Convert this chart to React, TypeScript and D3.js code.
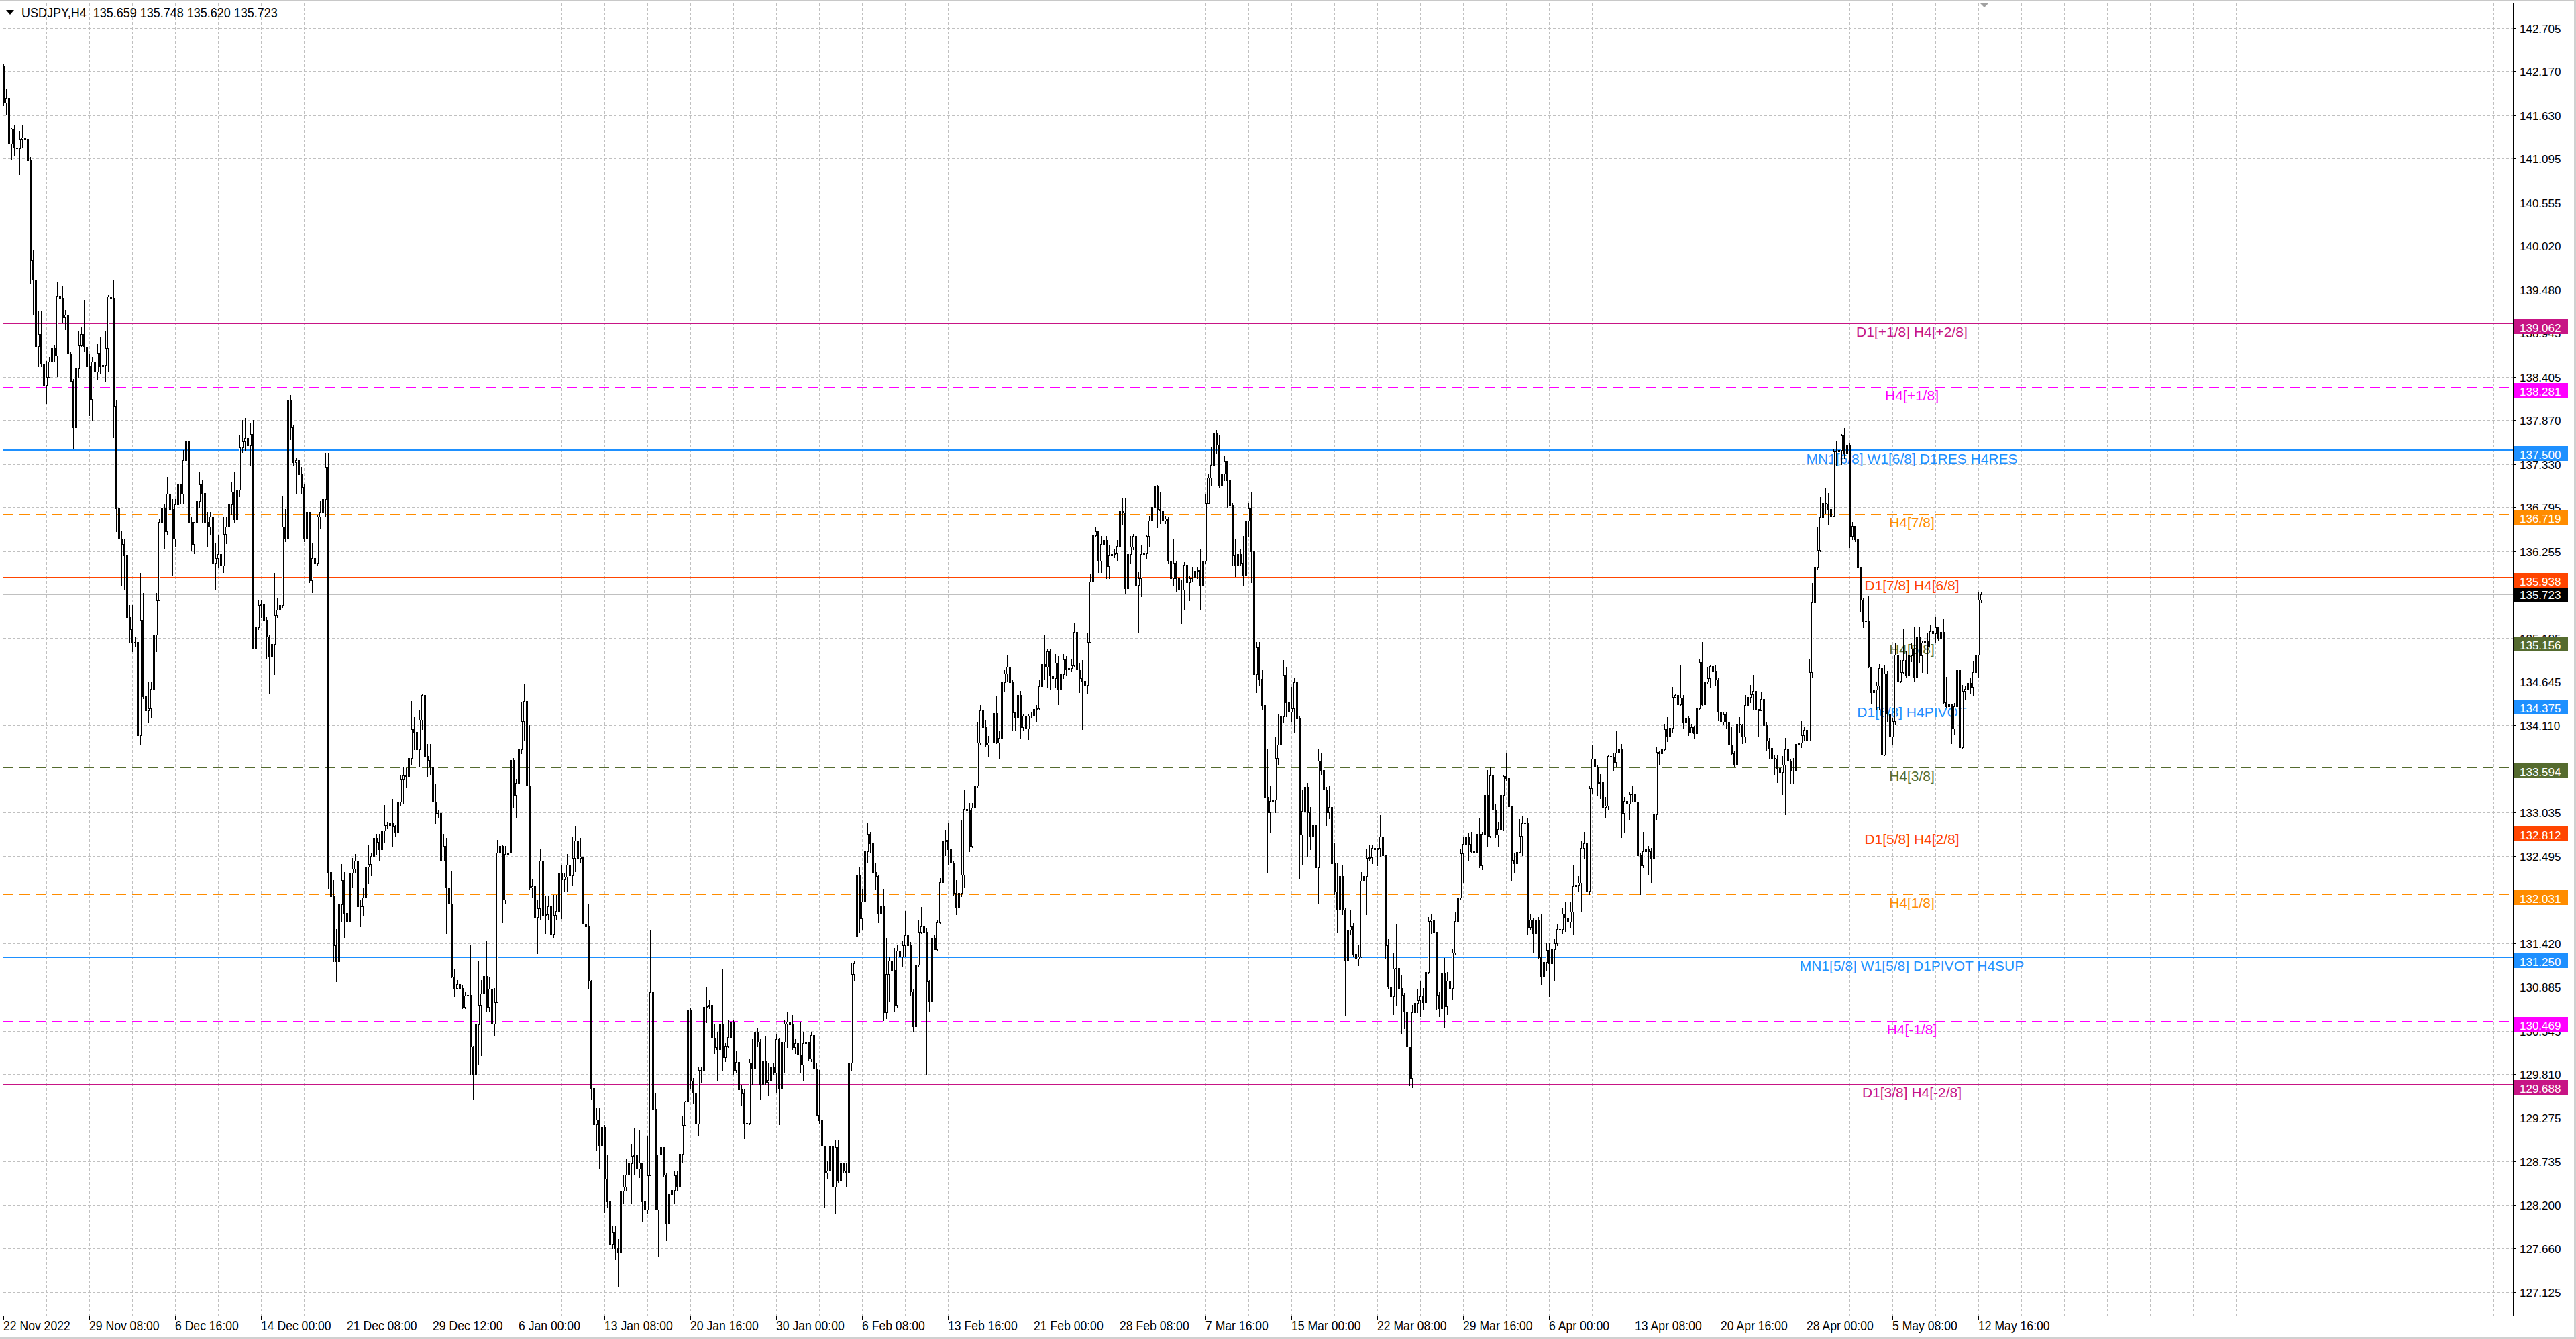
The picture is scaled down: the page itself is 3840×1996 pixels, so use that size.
import { useEffect, useRef } from 'react';
import * as d3 from 'd3';

const W = 3840;
const H = 1996;
const FONT = "'Liberation Sans', Arial, sans-serif";

// H4 bars, one value per bar (22 Nov 2022 -> 12 May 2023)
const closes = [
  141.78, 141.84, 141.28, 141.46, 141.23, 141.22, 141.34, 141.35, 141.34, 141.07,
  139.84, 139.60, 138.78, 138.93, 138.57, 138.30, 138.40, 138.59, 138.76, 138.67,
  139.40, 139.38, 139.14, 139.17, 138.69, 138.35, 137.78, 138.51, 138.79, 138.93,
  138.77, 138.53, 138.13, 138.59, 138.47, 138.70, 138.53, 138.55, 138.76, 139.39,
  139.38, 138.05, 136.78, 136.41, 136.34, 136.20, 135.44, 135.29, 135.14, 135.14,
  133.99, 135.41, 134.47, 134.29, 134.32, 134.56, 135.23, 135.65, 136.62, 136.78,
  136.50, 136.96, 136.77, 136.41, 136.83, 137.08, 136.96, 137.38, 137.61, 136.62,
  136.34, 136.62, 136.87, 137.08, 136.97, 136.62, 136.56, 136.68, 136.11, 136.17,
  136.22, 136.08, 136.47, 136.56, 136.83, 136.99, 136.65, 137.01, 137.53, 137.61,
  137.65, 137.56, 137.70, 135.05, 135.32, 135.59, 135.60, 135.41, 135.20, 134.96,
  135.11, 135.47, 135.53, 135.59, 136.56, 136.41, 138.11, 137.78, 137.35, 137.38,
  137.20, 137.05, 136.41, 136.74, 135.90, 136.17, 136.11, 136.68, 136.74, 136.90,
  137.29, 132.30, 132.00, 131.40, 131.20, 131.90, 132.20, 131.80, 131.70, 132.29,
  132.34, 132.44, 131.88, 131.88, 131.99, 132.37, 132.40, 132.50, 132.72, 132.67,
  132.58, 132.81, 132.88, 132.87, 132.90, 132.86, 132.80, 133.17, 133.45, 133.49,
  133.48, 133.71, 134.06, 134.03, 133.81, 134.18, 134.48, 133.73, 133.68, 133.60,
  133.17, 133.03, 133.03, 132.44, 132.62, 132.11, 131.91, 131.01, 130.87, 130.92,
  130.87, 130.64, 130.78, 130.79, 130.15, 129.81, 130.42, 130.66, 130.80, 131.02,
  130.64, 130.86, 130.43, 130.70, 132.54, 132.62, 131.96, 132.52, 132.54, 133.68,
  133.25, 133.40, 133.81, 134.16, 134.41, 133.37, 132.11, 132.13, 131.75, 131.85,
  132.44, 131.77, 131.78, 131.88, 131.53, 131.77, 131.82, 132.29, 132.21, 132.24,
  132.39, 132.26, 132.47, 132.69, 132.47, 132.49, 131.66, 131.63, 130.96, 129.64,
  129.19, 129.25, 128.93, 129.16, 128.52, 128.24, 127.71, 127.86, 127.66, 127.61,
  128.37, 128.42, 128.57, 128.71, 128.80, 128.81, 128.65, 128.72, 128.24, 128.14,
  128.56, 130.82, 129.38, 128.14, 128.82, 128.91, 128.57, 127.97, 128.33, 128.38,
  128.56, 128.42, 128.83, 129.18, 129.47, 130.60, 129.73, 129.58, 129.20, 129.86,
  129.86, 130.64, 130.65, 130.66, 130.26, 130.14, 130.12, 130.42, 130.02, 130.16,
  130.27, 130.45, 129.86, 129.96, 129.62, 129.57, 129.21, 129.21, 129.95, 129.88,
  130.33, 130.21, 129.69, 129.97, 129.71, 129.74, 129.90, 129.83, 130.24, 129.64,
  130.21, 130.43, 130.46, 130.42, 130.14, 130.19, 130.05, 129.93, 130.19, 130.21,
  130.00, 130.29, 129.88, 129.31, 129.24, 128.93, 128.60, 128.62, 128.93, 128.42,
  128.91, 128.50, 128.72, 128.62, 128.60, 129.95, 131.04, 131.18, 132.27, 131.73,
  131.94, 132.56, 132.77, 132.66, 132.30, 132.25, 131.80, 131.89, 130.57, 131.04,
  131.21, 131.09, 130.66, 131.33, 131.26, 131.40, 131.52, 131.40, 130.83, 130.40,
  131.16, 131.56, 131.63, 131.56, 130.95, 130.71, 131.49, 131.35, 131.68, 132.18,
  132.68, 132.70, 132.58, 132.42, 132.04, 131.87, 132.04, 132.27, 133.08, 133.06,
  132.62, 133.09, 133.37, 133.90, 134.29, 134.09, 133.87, 133.90, 133.90, 134.26,
  133.90, 133.95, 134.64, 134.75, 134.83, 134.64, 134.27, 134.21, 134.48, 134.09,
  134.23, 134.07, 134.23, 134.23, 134.31, 134.32, 134.59, 134.86, 134.83, 135.02,
  134.72, 134.69, 134.88, 134.55, 134.74, 134.92, 134.80, 134.81, 134.85, 135.26,
  134.80, 134.69, 134.66, 134.61, 135.14, 135.88, 136.45, 136.50, 136.14, 136.34,
  136.39, 136.07, 136.20, 136.22, 136.23, 136.32, 136.75, 136.73, 135.80, 136.22,
  136.31, 136.44, 135.84, 135.92, 136.22, 136.23, 136.44, 136.63, 136.80, 137.06,
  136.77, 136.76, 136.63, 136.66, 136.14, 135.92, 136.11, 135.92, 135.78, 135.78,
  136.09, 135.87, 135.92, 135.93, 136.01, 136.02, 135.84, 136.14, 136.85, 137.16,
  137.32, 137.71, 137.57, 137.06, 137.21, 137.37, 137.13, 136.82, 136.20, 136.09,
  136.22, 136.11, 135.96, 136.63, 136.78, 136.25, 134.74, 135.07, 134.68, 134.36,
  133.23, 133.04, 133.18, 133.19, 133.71, 133.87, 134.22, 134.73, 134.39, 134.28,
  134.32, 134.64, 134.19, 132.76, 133.05, 133.35, 133.04, 132.74, 132.88, 132.36,
  133.67, 133.56, 133.32, 133.04, 133.10, 132.41, 132.06, 131.84, 132.25, 131.84,
  131.21, 131.59, 131.63, 131.29, 131.23, 131.26, 132.19, 132.25, 132.47, 132.48,
  132.60, 132.58, 132.60, 132.74, 132.51, 131.40, 130.89, 130.77, 131.11, 131.12,
  130.87, 130.79, 130.58, 130.15, 129.76, 130.57, 130.69, 130.72, 130.77, 130.70,
  131.07, 131.70, 131.71, 131.56, 130.79, 130.62, 131.05, 130.65, 130.96, 130.87,
  131.31, 131.70, 131.99, 132.53, 132.65, 132.73, 132.65, 132.56, 132.54, 132.77,
  132.38, 132.77, 133.25, 132.75, 133.49, 133.07, 132.76, 132.83, 133.25, 133.48,
  133.46, 133.11, 132.45, 132.41, 132.55, 132.75, 132.90, 132.90, 131.62, 131.71,
  131.55, 131.71, 131.25, 131.01, 131.19, 131.34, 131.18, 131.35, 131.42, 131.60,
  131.60, 131.79, 131.74, 131.69, 131.81, 132.13, 132.14, 132.17, 132.60, 132.66,
  132.07, 133.33, 133.70, 133.60, 133.40, 133.41, 133.10, 133.12, 133.73, 133.72,
  133.66, 133.77, 133.82, 133.03, 133.18, 133.14, 133.26, 133.26, 133.17, 132.51,
  132.38, 132.56, 132.58, 132.56, 132.47, 133.01, 133.78, 133.76, 133.81, 134.06,
  133.97, 134.08, 134.46, 134.48, 134.37, 134.45, 134.14, 134.19, 134.02, 134.09,
  134.01, 134.32, 134.89, 134.37, 134.65, 134.69, 134.84, 134.78, 134.67, 134.28,
  134.15, 134.24, 134.15, 133.87, 133.76, 133.63, 134.13, 134.12, 133.97, 134.36,
  134.46, 134.49, 134.53, 134.31, 134.29, 134.43, 134.11, 133.92, 133.83, 133.71,
  133.70, 133.58, 133.53, 133.62, 133.81, 133.67, 133.55, 133.55, 133.88, 133.90,
  133.99, 134.05, 133.92, 134.76, 135.62, 136.06, 136.27, 136.67, 136.85, 136.84,
  136.77, 136.69, 137.48, 137.48, 137.50, 137.68, 137.46, 137.56, 136.44, 136.57,
  136.40, 136.06, 135.66, 135.39, 135.39, 134.83, 134.52, 134.55, 134.60, 134.81,
  133.75, 134.75, 134.25, 133.97, 134.16, 134.98, 134.66, 134.76, 134.91, 134.73,
  134.97, 135.05, 134.71, 135.20, 134.97, 135.13, 135.15, 135.08, 135.27, 135.24,
  135.32, 135.18, 135.26, 134.39, 134.34, 134.37, 134.07, 134.34, 134.80, 133.84,
  134.53, 134.56, 134.63, 134.58, 134.76, 134.98, 135.66, 135.723,
];

const highs = [
  142.26, 141.96, 142.04, 141.47, 141.50, 141.28, 141.44, 141.50, 141.50, 141.60,
  141.11, 139.97, 139.60, 139.21, 139.21, 138.60, 138.60, 138.65, 139.05, 138.80,
  139.57, 139.60, 139.53, 139.23, 139.42, 138.72, 138.38, 138.51, 138.96, 139.02,
  139.35, 138.84, 138.69, 138.65, 138.84, 138.81, 138.90, 138.84, 138.96, 139.41,
  139.90, 139.59, 138.11, 136.99, 136.50, 136.41, 136.32, 135.59, 135.59, 135.20,
  135.20, 135.99, 135.74, 134.77, 134.65, 134.65, 135.66, 135.74, 136.65, 136.87,
  136.83, 137.17, 137.41, 136.90, 136.90, 137.11, 137.05, 137.50, 137.87, 137.73,
  136.68, 136.62, 136.96, 137.23, 137.14, 137.05, 136.74, 136.74, 136.87, 136.35,
  136.46, 136.68, 136.68, 136.68, 136.93, 137.11, 137.23, 137.26, 137.68, 137.87,
  137.90, 137.81, 137.84, 137.87, 135.41, 135.65, 135.65, 135.65, 135.44, 135.23,
  135.14, 135.99, 135.68, 135.87, 136.93, 136.77, 138.14, 138.18, 137.81, 137.41,
  137.38, 137.29, 137.08, 136.77, 136.47, 136.35, 136.20, 136.71, 136.87, 137.05,
  137.47, 137.47, 133.68, 132.20, 131.60, 132.10, 132.40, 132.30, 132.00, 132.34,
  132.47, 132.52, 132.44, 131.96, 132.11, 132.49, 132.64, 132.53, 132.81, 132.77,
  132.77, 132.82, 133.13, 132.92, 132.95, 133.20, 132.88, 133.20, 133.50, 133.60,
  133.58, 133.94, 134.41, 134.21, 134.07, 134.29, 134.50, 134.44, 133.88, 133.88,
  133.83, 133.38, 133.07, 133.10, 132.77, 132.72, 132.13, 132.32, 131.10, 130.97,
  130.96, 130.90, 130.82, 130.80, 131.40, 130.16, 130.97, 131.20, 130.97, 131.05,
  131.45, 131.00, 131.00, 130.87, 132.70, 132.72, 132.64, 132.62, 132.90, 133.73,
  133.71, 133.45, 134.06, 134.39, 134.62, 134.77, 134.11, 132.21, 131.98, 131.96,
  132.59, 132.64, 132.01, 132.01, 132.21, 132.02, 132.02, 132.47, 132.39, 132.29,
  132.52, 132.59, 132.74, 132.87, 132.72, 132.72, 132.49, 131.91, 131.91, 130.97,
  129.66, 129.40, 129.40, 129.18, 129.18, 128.82, 128.24, 127.94, 127.94, 127.78,
  128.87, 128.57, 128.77, 128.77, 128.95, 129.15, 129.02, 129.12, 128.72, 128.27,
  129.05, 131.58, 130.90, 129.58, 128.82, 128.92, 128.85, 128.60, 128.37, 128.80,
  128.62, 128.62, 128.87, 129.30, 129.48, 130.62, 130.62, 129.76, 129.63, 129.90,
  129.90, 130.66, 130.89, 130.73, 130.71, 130.42, 130.33, 130.50, 131.11, 130.19,
  130.47, 130.57, 130.47, 130.09, 129.97, 129.67, 129.62, 129.31, 130.00, 130.24,
  130.61, 130.38, 130.24, 130.14, 130.28, 129.95, 130.07, 129.95, 130.31, 130.26,
  130.28, 130.47, 130.57, 130.57, 130.54, 130.24, 130.47, 130.45, 130.33, 130.24,
  130.19, 130.33, 130.40, 129.95, 129.86, 129.26, 128.93, 128.74, 129.12, 129.00,
  129.00, 129.00, 128.84, 128.72, 128.72, 130.21, 131.18, 131.21, 132.37, 132.37,
  132.09, 132.62, 132.90, 132.80, 132.68, 132.42, 132.27, 132.09, 132.09, 131.49,
  131.26, 131.26, 131.37, 131.40, 131.54, 131.46, 131.82, 131.75, 131.44, 130.85,
  131.18, 131.71, 131.87, 131.75, 131.61, 130.97, 131.56, 131.52, 131.71, 132.23,
  132.77, 132.82, 132.90, 132.63, 132.44, 132.20, 132.06, 132.94, 133.32, 133.20,
  133.15, 133.15, 133.49, 134.14, 134.36, 134.36, 134.17, 133.98, 134.01, 134.36,
  134.47, 134.04, 134.67, 134.80, 134.97, 135.11, 134.67, 134.28, 134.54, 134.53,
  134.24, 134.24, 134.24, 134.28, 134.47, 134.36, 134.67, 134.89, 135.22, 135.05,
  135.05, 134.85, 134.99, 134.96, 134.80, 134.99, 134.96, 134.94, 134.92, 135.37,
  135.29, 134.88, 134.91, 134.83, 135.25, 135.98, 136.48, 136.55, 136.44, 136.44,
  136.44, 136.44, 136.33, 136.28, 136.28, 136.39, 136.85, 136.91, 136.91, 136.25,
  136.44, 136.47, 136.44, 136.00, 136.33, 136.31, 136.45, 136.69, 136.87, 137.09,
  137.07, 136.99, 136.72, 136.69, 136.67, 136.17, 136.41, 136.14, 135.98, 135.90,
  136.12, 136.20, 135.95, 136.06, 136.17, 136.06, 136.28, 136.22, 136.96, 137.21,
  137.54, 137.91, 137.75, 137.68, 137.29, 137.43, 137.27, 137.14, 136.85, 136.40,
  136.47, 136.28, 136.44, 136.96, 136.85, 136.99, 136.36, 135.14, 135.14, 134.80,
  134.39, 133.81, 133.37, 133.62, 133.96, 134.25, 134.33, 134.91, 134.82, 134.44,
  134.58, 134.69, 135.12, 134.22, 133.32, 133.49, 133.40, 133.10, 132.96, 133.07,
  133.81, 133.76, 133.62, 133.35, 133.37, 133.24, 132.66, 132.41, 132.41, 132.39,
  131.86, 131.67, 131.84, 131.67, 131.31, 131.40, 132.30, 132.45, 132.58, 132.63,
  132.63, 132.69, 132.60, 133.00, 132.82, 132.39, 131.48, 130.96, 131.31, 131.66,
  131.18, 131.03, 130.81, 130.67, 130.15, 130.66, 130.88, 130.85, 130.96, 130.87,
  131.09, 131.75, 131.79, 131.75, 131.56, 130.83, 131.29, 131.24, 131.07, 130.97,
  131.36, 131.81, 132.10, 132.59, 132.73, 132.88, 132.79, 132.80, 132.62, 132.90,
  132.97, 132.80, 133.51, 133.56, 133.60, 133.50, 133.14, 132.91, 133.41, 133.49,
  133.76, 133.54, 133.12, 132.53, 132.60, 132.95, 132.99, 133.17, 132.96, 131.79,
  131.73, 131.84, 131.75, 131.79, 131.25, 131.42, 131.42, 131.40, 131.48, 131.66,
  131.82, 131.86, 131.94, 131.82, 131.94, 132.38, 132.29, 132.25, 132.69, 132.80,
  132.73, 133.36, 133.87, 133.71, 133.62, 133.51, 133.58, 133.23, 133.74, 133.80,
  133.76, 134.04, 133.97, 133.88, 133.23, 133.39, 133.29, 133.36, 133.38, 133.18,
  132.53, 132.80, 132.64, 132.62, 132.60, 133.19, 133.84, 133.80, 134.00, 134.13,
  134.21, 134.15, 134.58, 134.50, 134.50, 134.85, 134.48, 134.32, 134.22, 134.13,
  134.10, 134.39, 134.92, 135.14, 134.83, 134.82, 134.85, 134.96, 134.85, 134.69,
  134.35, 134.28, 134.28, 134.17, 134.09, 133.80, 134.49, 134.21, 134.13, 134.48,
  134.48, 134.61, 134.73, 134.41, 134.31, 134.52, 134.48, 134.14, 133.95, 133.89,
  133.75, 133.75, 133.78, 133.73, 133.95, 133.89, 133.70, 133.71, 134.06, 134.06,
  134.16, 134.09, 134.09, 134.93, 135.86, 136.43, 136.55, 136.92, 136.97, 137.04,
  136.97, 136.92, 137.51, 137.61, 137.58, 137.70, 137.77, 137.58, 137.58, 136.62,
  136.57, 136.45, 136.06, 135.67, 135.71, 135.71, 134.83, 134.60, 134.65, 134.86,
  134.88, 134.85, 134.78, 134.14, 134.20, 135.12, 135.12, 134.91, 135.29, 135.03,
  135.07, 135.12, 135.32, 135.22, 135.32, 135.15, 135.27, 135.24, 135.35, 135.34,
  135.44, 135.24, 135.49, 135.42, 134.71, 134.39, 134.34, 134.38, 134.85, 134.83,
  134.61, 134.59, 134.68, 134.70, 134.90, 135.05, 135.76, 135.748,
];

const lows = [
  141.75, 141.64, 141.28, 141.09, 141.14, 141.13, 140.90, 141.23, 141.08, 140.99,
  139.56, 139.17, 138.75, 138.53, 138.53, 138.06, 138.08, 138.40, 138.44, 138.60,
  138.41, 139.17, 139.08, 138.99, 138.67, 138.34, 137.52, 137.53, 138.40, 138.77,
  138.72, 138.52, 137.93, 137.87, 138.23, 138.38, 138.44, 138.35, 138.35, 138.47,
  139.32, 137.66, 136.50, 136.20, 135.83, 135.78, 135.32, 135.14, 135.02, 135.08,
  133.62, 133.87, 134.44, 134.14, 134.14, 134.20, 134.53, 135.02, 135.65, 136.62,
  136.29, 136.47, 136.72, 135.96, 136.32, 136.80, 136.84, 136.84, 137.31, 136.53,
  136.26, 136.23, 136.29, 136.80, 136.62, 136.32, 136.32, 136.47, 136.11, 135.78,
  136.05, 135.62, 136.00, 136.35, 136.47, 136.71, 136.62, 136.62, 136.93, 137.47,
  137.50, 137.50, 137.32, 135.05, 134.65, 135.29, 135.44, 135.29, 134.93, 134.50,
  134.77, 134.74, 135.44, 135.44, 135.56, 136.38, 136.17, 137.63, 137.32, 136.96,
  136.84, 136.96, 136.38, 136.29, 135.87, 135.75, 135.75, 136.08, 136.53, 136.65,
  136.68, 132.10, 131.60, 131.20, 130.95, 131.10, 131.70, 131.50, 131.30, 131.56,
  132.11, 132.29, 131.78, 131.63, 131.76, 131.91, 132.16, 132.26, 132.14, 132.52,
  132.44, 132.52, 132.67, 132.84, 132.82, 132.62, 132.75, 132.77, 133.12, 133.15,
  133.34, 133.45, 133.63, 133.81, 133.40, 133.60, 134.06, 133.68, 133.48, 133.50,
  133.10, 132.90, 132.97, 132.38, 132.44, 131.55, 131.61, 131.00, 130.77, 130.87,
  130.85, 130.62, 130.62, 130.59, 129.81, 129.51, 129.61, 129.93, 130.04, 130.59,
  130.59, 130.59, 129.93, 130.29, 130.70, 132.37, 131.68, 131.91, 132.31, 132.31,
  133.10, 132.97, 133.28, 133.76, 133.93, 133.37, 132.09, 131.99, 131.58, 131.30,
  131.71, 131.61, 131.55, 131.71, 131.38, 131.50, 131.71, 131.81, 131.73, 132.06,
  132.06, 132.14, 132.14, 132.31, 132.42, 132.42, 131.66, 131.38, 130.86, 129.51,
  129.18, 128.87, 128.65, 128.92, 128.11, 128.17, 127.46, 127.66, 127.53, 127.20,
  127.58, 128.22, 128.37, 128.54, 128.22, 128.57, 128.60, 128.54, 127.99, 128.09,
  128.09, 128.56, 129.20, 128.14, 127.56, 128.62, 128.55, 127.76, 127.76, 128.24,
  128.22, 128.37, 128.37, 128.72, 129.18, 129.40, 129.63, 129.45, 129.07, 129.05,
  129.71, 129.71, 130.45, 130.62, 130.24, 130.07, 129.74, 130.00, 129.86, 129.97,
  130.14, 130.24, 129.81, 129.83, 129.26, 129.43, 129.02, 128.99, 129.19, 129.69,
  129.74, 130.16, 129.50, 129.62, 129.69, 129.55, 129.69, 129.81, 129.59, 129.19,
  129.43, 129.83, 130.14, 130.38, 130.12, 130.07, 129.90, 129.83, 129.74, 130.07,
  129.98, 129.97, 129.81, 129.31, 129.21, 128.52, 128.17, 128.52, 128.57, 128.10,
  128.10, 128.47, 128.47, 128.60, 128.43, 128.33, 129.86, 130.97, 131.50, 131.56,
  131.59, 131.92, 132.42, 132.54, 132.25, 132.09, 131.68, 131.75, 130.47, 130.50,
  130.71, 131.07, 130.59, 130.64, 131.09, 131.14, 131.26, 131.23, 130.78, 130.33,
  130.40, 131.14, 131.54, 131.54, 129.81, 130.59, 130.64, 131.35, 131.33, 131.66,
  132.01, 132.51, 132.39, 132.28, 132.01, 131.78, 131.85, 132.00, 132.11, 132.96,
  132.56, 132.61, 132.96, 133.34, 133.87, 134.08, 133.85, 133.72, 133.60, 133.79,
  133.89, 133.70, 133.94, 134.53, 134.65, 134.53, 134.05, 134.05, 134.20, 133.95,
  134.05, 133.91, 133.94, 134.20, 134.20, 134.15, 134.31, 134.58, 134.67, 134.58,
  134.55, 134.44, 134.58, 134.37, 134.39, 134.69, 134.72, 134.69, 134.77, 134.83,
  134.63, 134.52, 134.06, 134.58, 134.51, 135.13, 135.87, 136.44, 136.00, 136.00,
  136.25, 135.92, 135.92, 136.09, 136.18, 136.14, 136.28, 136.58, 135.73, 135.78,
  136.11, 136.28, 135.59, 135.25, 135.70, 135.92, 136.17, 136.31, 136.44, 136.45,
  136.55, 136.60, 136.50, 136.60, 136.11, 135.79, 135.84, 135.76, 135.62, 135.37,
  135.54, 135.65, 135.65, 135.89, 135.91, 135.92, 135.54, 135.84, 136.11, 136.85,
  137.07, 137.29, 137.46, 137.05, 136.47, 137.13, 136.80, 136.72, 136.09, 135.95,
  136.09, 136.09, 135.83, 135.92, 136.44, 135.87, 134.11, 134.52, 134.60, 134.30,
  132.95, 132.29, 132.80, 133.13, 133.04, 133.62, 133.21, 134.14, 134.22, 133.99,
  134.15, 134.03, 133.98, 132.22, 132.39, 132.96, 132.49, 132.58, 132.58, 131.73,
  131.92, 133.51, 133.24, 132.88, 132.96, 132.06, 132.03, 131.56, 131.78, 131.78,
  130.53, 130.89, 131.53, 131.26, 131.01, 131.15, 131.25, 132.16, 131.78, 132.44,
  132.41, 132.28, 132.38, 132.50, 132.47, 131.23, 130.87, 130.41, 130.55, 130.66,
  130.66, 130.31, 130.37, 130.05, 129.67, 129.65, 130.28, 130.57, 130.52, 130.61,
  130.70, 131.05, 131.55, 131.51, 130.61, 130.52, 130.61, 130.39, 130.55, 130.56,
  130.74, 131.29, 131.60, 131.97, 132.17, 132.55, 132.45, 132.55, 132.19, 132.53,
  132.36, 132.33, 132.66, 132.62, 132.73, 133.07, 132.73, 132.62, 132.82, 132.82,
  133.43, 132.82, 132.20, 132.29, 132.17, 132.55, 132.51, 132.73, 131.53, 131.59,
  131.31, 131.38, 131.23, 130.92, 130.63, 131.09, 130.77, 131.05, 130.96, 131.40,
  131.53, 131.55, 131.57, 131.57, 131.62, 131.53, 132.03, 132.07, 131.81, 132.47,
  132.05, 132.03, 133.27, 133.58, 133.25, 133.21, 132.99, 132.97, 133.07, 133.63,
  133.56, 133.60, 133.56, 132.73, 132.80, 133.04, 132.95, 133.17, 132.86, 132.49,
  132.03, 132.36, 132.45, 132.27, 132.18, 132.19, 132.95, 133.63, 133.74, 133.80,
  133.91, 133.74, 134.02, 134.45, 134.26, 134.35, 134.08, 133.86, 133.99, 134.06,
  133.95, 133.95, 134.30, 134.36, 134.28, 134.63, 134.58, 134.72, 134.61, 134.17,
  134.10, 134.13, 134.07, 133.76, 133.75, 133.60, 133.54, 134.02, 133.89, 133.90,
  134.15, 134.39, 134.30, 134.26, 133.97, 134.29, 133.99, 133.80, 133.70, 133.36,
  133.50, 133.41, 133.38, 133.26, 133.01, 133.40, 133.40, 133.40, 133.21, 133.82,
  133.84, 133.92, 133.33, 133.92, 134.71, 135.61, 136.03, 136.25, 136.72, 136.72,
  136.58, 136.60, 136.73, 137.31, 137.31, 137.33, 137.40, 137.31, 136.30, 136.40,
  136.38, 136.05, 135.52, 135.32, 135.05, 134.82, 134.38, 134.33, 134.31, 134.31,
  133.50, 133.74, 134.15, 133.89, 133.87, 134.12, 134.64, 134.64, 134.75, 134.71,
  134.65, 134.90, 134.66, 134.71, 134.88, 134.76, 135.05, 134.75, 135.12, 135.15,
  135.13, 135.15, 135.17, 134.38, 134.33, 134.11, 133.89, 134.00, 134.33, 133.74,
  133.82, 134.43, 134.45, 134.50, 134.48, 134.63, 134.71, 135.620,
];

// bars whose open is not the previous close
const gapBars = [0, 318, 737];
const gapOpens = [142.23, 131.51, 135.659];

const timeLabels = [
  '22 Nov 2022', '29 Nov 08:00', '6 Dec 16:00', '14 Dec 00:00', '21 Dec 08:00', '29 Dec 12:00',
  '6 Jan 00:00', '13 Jan 08:00', '20 Jan 16:00', '30 Jan 00:00', '6 Feb 08:00', '13 Feb 16:00',
  '21 Feb 00:00', '28 Feb 08:00', '7 Mar 16:00', '15 Mar 00:00', '22 Mar 08:00', '29 Mar 16:00',
  '6 Apr 00:00', '13 Apr 08:00', '20 Apr 16:00', '28 Apr 00:00', '5 May 08:00', '12 May 16:00',
];

const priceTicks = [
  142.705, 142.17, 141.63, 141.095, 140.555, 140.02, 139.48, 138.945, 138.405, 137.87,
  137.33, 136.795, 136.255, 135.72, 135.185, 134.645, 134.11, 133.57, 133.035, 132.495,
  131.96, 131.42, 130.885, 130.345, 129.81, 129.275, 128.735, 128.2, 127.66, 127.125,
];

const levelPrices = [139.062, 138.281, 137.5, 136.719, 135.938, 135.156, 134.375, 133.594, 132.812, 132.031, 131.25, 130.469, 129.688];
const levelNames = [
  'D1[+1/8] H4[+2/8]', 'H4[+1/8]', 'MN1[6/8] W1[6/8] D1RES H4RES', 'H4[7/8]', 'D1[7/8] H4[6/8]',
  'H4[5/8]', 'D1[6/8] H4PIVOT', 'H4[3/8]', 'D1[5/8] H4[2/8]', 'H4[1/8]',
  'MN1[5/8] W1[5/8] D1PIVOT H4SUP', 'H4[-1/8]', 'D1[3/8] H4[-2/8]',
];
const levelColors = [
  '#C71585', '#FF00FF', '#1E90FF', '#FF8C00', '#FF4500', '#556B2F', '#1E90FF',
  '#556B2F', '#FF4500', '#FF8C00', '#1E90FF', '#FF00FF', '#C71585',
];
const levelDashed = [false, true, false, true, false, true, false, true, false, true, false, true, false];
const levelWidths = [1, 1, 2, 1, 1, 1, 1, 1, 1, 1, 2, 1, 1];

const bidPrice = 135.723;
const title = 'USDJPY,H4  135.659 135.748 135.620 135.723';

const App = () => {
  const ref = useRef<SVGSVGElement>(null);

  useEffect(() => {
    const svg = d3.select(ref.current);
    svg.selectAll('*').remove();

    const plotL = 4, plotT = 4, plotR = 3746, plotB = 1961;
    const xScale = d3.scaleLinear().domain([0, 935.25]).range([5, 3746]);
    const yScale = d3.scaleLinear().domain([127.125, 142.705]).range([1926, 41.5]);
    const px = (i: number) => Math.round(xScale(i));
    const py = (v: number) => Math.round(yScale(v));

    svg.append('rect').attr('width', W).attr('height', H).attr('fill', '#ffffff');

    // grid
    const grid = svg.append('g')
      .attr('shape-rendering', 'crispEdges')
      .attr('stroke', '#c0c0c0')
      .attr('stroke-width', 1)
      .attr('stroke-dasharray', '4 3');
    grid.selectAll('line.gh').data(priceTicks).enter().append('line').attr('class', 'gh')
      .attr('x1', plotL + 1).attr('x2', plotR)
      .attr('y1', (d) => py(d) + 0.5).attr('y2', (d) => py(d) + 0.5);
    grid.selectAll('line.gv').data(d3.range(16, 936, 16)).enter().append('line').attr('class', 'gv')
      .attr('x1', (d) => px(d) + 0.5).attr('x2', (d) => px(d) + 0.5)
      .attr('y1', plotT + 1).attr('y2', plotB);

    // level lines
    const lv = svg.append('g').attr('shape-rendering', 'crispEdges');
    levelPrices.forEach((p, k) => {
      const y = py(p) + (levelWidths[k] % 2 ? 0.5 : 0);
      lv.append('line')
        .attr('x1', plotL + 1).attr('x2', plotR)
        .attr('y1', y).attr('y2', y)
        .attr('stroke', levelColors[k])
        .attr('stroke-width', levelWidths[k])
        .attr('stroke-dasharray', levelDashed[k] ? '15 9' : null);
    });
    lv.append('line')
      .attr('x1', plotL + 1).attr('x2', plotR)
      .attr('y1', py(bidPrice) + 0.5).attr('y2', py(bidPrice) + 0.5)
      .attr('stroke', '#c0c0c0').attr('stroke-width', 1);

    // level names
    svg.append('g').selectAll('text').data(levelPrices).enter().append('text')
      .attr('x', 2850)
      .attr('y', (d) => py(d) + 20)
      .attr('text-anchor', 'middle')
      .style('font-family', FONT)
      .style('font-size', '21px')
      .attr('fill', (_d, k) => levelColors[k])
      .text((_d, k) => levelNames[k]);

    // candles
    const bars = closes.map((c, i) => {
      const gi = gapBars.indexOf(i);
      const o = gi >= 0 ? gapOpens[gi] : closes[i - 1];
      return { i, o, c, h: Math.max(highs[i], o, c), l: Math.min(lows[i], o, c) };
    });
    const cg = svg.append('g').attr('shape-rendering', 'crispEdges');
    bars.forEach((b) => {
      const x = px(b.i);
      const yh = py(b.h);
      const yl = py(b.l);
      const top = py(Math.max(b.o, b.c));
      const bot = py(Math.min(b.o, b.c));
      cg.append('rect').attr('x', x).attr('y', yh).attr('width', 1).attr('height', yl - yh + 1).attr('fill', '#000');
      cg.append('rect').attr('x', x - 1).attr('y', top).attr('width', 3).attr('height', bot - top + 1).attr('fill', '#000');
      if (b.c > b.o && bot - top >= 2) {
        cg.append('rect').attr('x', x).attr('y', top + 1).attr('width', 1).attr('height', bot - top - 1).attr('fill', '#fff');
      }
    });

    // frame
    const fr = svg.append('g').attr('shape-rendering', 'crispEdges').attr('stroke', '#000').attr('stroke-width', 1);
    fr.append('line').attr('x1', plotL + 0.5).attr('x2', plotL + 0.5).attr('y1', plotT).attr('y2', plotB + 1);
    fr.append('line').attr('x1', plotL).attr('x2', plotR + 1).attr('y1', plotT + 0.5).attr('y2', plotT + 0.5);
    fr.append('line').attr('x1', plotR + 0.5).attr('x2', plotR + 0.5).attr('y1', plotT).attr('y2', plotB + 1);
    fr.append('line').attr('x1', plotL).attr('x2', plotR + 1).attr('y1', plotB + 0.5).attr('y2', plotB + 0.5);

    // price axis
    fr.selectAll('line.pt').data(priceTicks).enter().append('line').attr('class', 'pt')
      .attr('x1', plotR).attr('x2', plotR + 5)
      .attr('y1', (d) => py(d) + 0.5).attr('y2', (d) => py(d) + 0.5);
    svg.append('g').selectAll('text').data(priceTicks).enter().append('text')
      .attr('x', 3756)
      .attr('y', (d) => py(d) + 6.5)
      .style('font-family', FONT)
      .style('font-size', '17px')
      .attr('fill', '#000')
      .text((d) => d.toFixed(3));

    // time axis
    const timeIdx = d3.range(0, 737, 32);
    fr.selectAll('line.tt').data(timeIdx).enter().append('line').attr('class', 'tt')
      .attr('x1', (d) => px(d) + 0.5).attr('x2', (d) => px(d) + 0.5)
      .attr('y1', plotB).attr('y2', plotB + 6);
    svg.append('g').selectAll('text').data(timeIdx).enter().append('text')
      .attr('transform', (d) => `translate(${px(d)},1983) scale(0.88,1)`)
      .style('font-family', FONT)
      .style('font-size', '20px')
      .attr('fill', '#000')
      .text((_d, k) => timeLabels[k]);

    // price boxes on the axis
    const pb = svg.append('g');
    levelPrices.forEach((p, k) => {
      const y = py(p);
      pb.append('rect').attr('x', 3748).attr('y', y - 6).attr('width', 80).attr('height', 22).attr('fill', levelColors[k]);
      pb.append('text')
        .attr('x', 3756).attr('y', y + 13)
        .style('font-family', FONT).style('font-size', '17px')
        .attr('fill', '#fff')
        .text(p.toFixed(3));
    });
    const yb = py(bidPrice);
    pb.append('rect').attr('x', 3748).attr('y', yb - 9).attr('width', 80).attr('height', 20).attr('fill', '#000');
    pb.append('text')
      .attr('x', 3756).attr('y', yb + 7)
      .style('font-family', FONT).style('font-size', '17px')
      .attr('fill', '#fff')
      .text(bidPrice.toFixed(3));

    // title
    svg.append('polygon').attr('points', '9,15 21,15 15,22').attr('fill', '#000');
    svg.append('text')
      .attr('transform', 'translate(32,26) scale(0.9,1)')
      .style('font-family', FONT).style('font-size', '20px')
      .style('white-space', 'pre')
      .attr('fill', '#000')
      .text(title);

    // window edges and chart shift marker
    svg.append('rect').attr('x', 0).attr('y', 0).attr('width', W).attr('height', 2).attr('fill', '#c8c8c8');
    svg.append('rect').attr('x', 3837).attr('y', 0).attr('width', 3).attr('height', H).attr('fill', '#d0d0d0');
    svg.append('rect').attr('x', 0).attr('y', 1993).attr('width', W).attr('height', 3).attr('fill', '#d0d0d0');
    svg.append('polygon').attr('points', '2951,4 2965,4 2958,11').attr('fill', '#a0a0a0');
  }, []);

  return (
    <svg
      ref={ref}
      width={W}
      height={H}
      style={{ position: 'absolute', left: 0, top: 0, display: 'block' }}
    />
  );
};

export default App;
